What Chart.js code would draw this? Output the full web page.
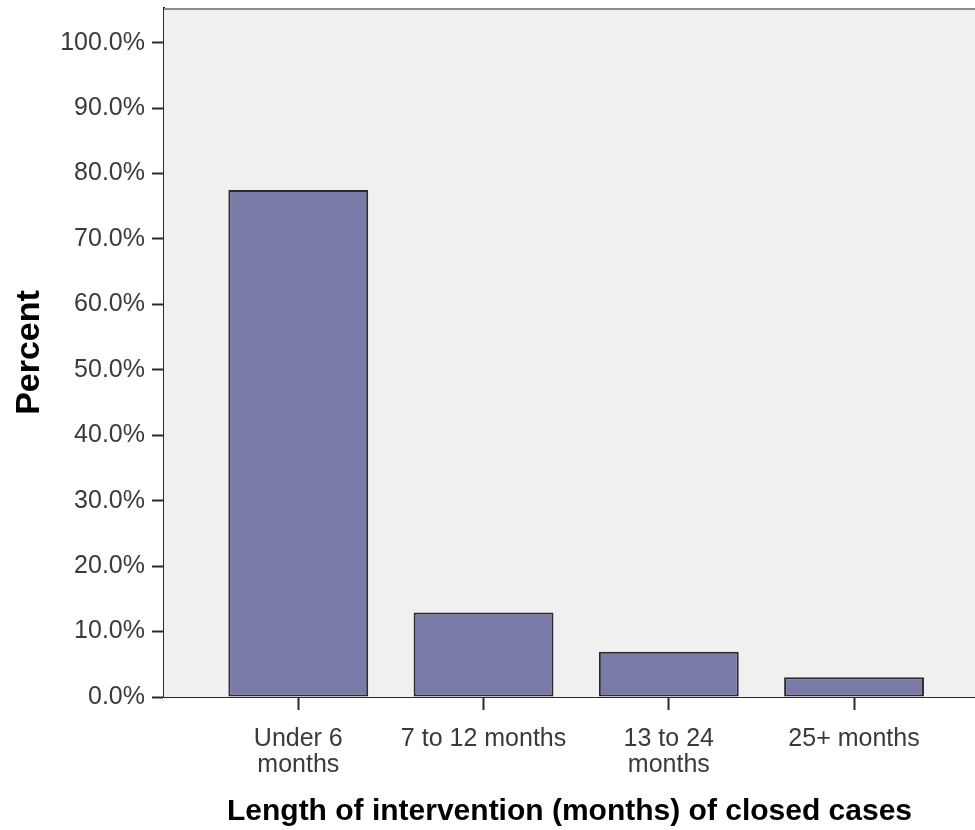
<!DOCTYPE html>
<html>
<head>
<meta charset="utf-8">
<script src="https://cdn.jsdelivr.net/npm/chart.js@4/dist/chart.umd.min.js"></script>
<style>
  html, body { margin: 0; padding: 0; background: #fff; }
  #wrap { width: 975px; height: 830px; }
</style>
</head>
<body>
<div id="wrap"><canvas id="chart" width="975" height="830"></canvas></div>
<script>
  'use strict';

  // Share of closed cases by length of intervention
  const CATEGORIES = [['Under 6', 'months'], '7 to 12 months', ['13 to 24', 'months'], '25+ months'];
  const PERCENTS = [77.5, 12.9, 6.9, 3.0];
  const Y_TICKS = [0, 10, 20, 30, 40, 50, 60, 70, 80, 90, 100];

  const AXIS = '#2a2a2a';
  const FONT = "'Liberation Sans', Arial, sans-serif";

  /* Grey plot panel with a thin border along its top edge. */
  const panel = {
    id: 'panel',
    beforeDatasetsDraw(chart) {
      const { ctx, chartArea: a } = chart;
      ctx.save();
      ctx.fillStyle = '#f0f0f0';
      ctx.fillRect(a.left, a.top, a.right - a.left, a.bottom - a.top);
      ctx.strokeStyle = '#8c8c8c';
      ctx.lineWidth = 2;
      ctx.beginPath();
      ctx.moveTo(a.left, a.top + 1);
      ctx.lineTo(a.right, a.top + 1);
      ctx.stroke();
      ctx.restore();
    }
  };

  // fixed axis boxes: no automatic label overhang padding
  const fixBox = (size) => (s) => {
    if (s.isHorizontal()) s.height = size; else s.width = size;
    s.paddingTop = s.paddingBottom = s.paddingLeft = s.paddingRight = 0;
  };

  Chart.defaults.font.family = FONT;
  Chart.defaults.color = '#3a3a3a';

  new Chart(document.getElementById('chart'), {
    type: 'bar',
    data: {
      datasets: [{
        data: PERCENTS.map((v, i) => ({ x: i, y: v })),
        backgroundColor: '#7a7aa8',
        borderColor: AXIS,
        borderWidth: 2,
        borderSkipped: false,
        categoryPercentage: 1,
        barPercentage: 0.755
      }]
    },
    options: {
      responsive: false,
      animation: false,
      layout: { padding: { top: 8, right: 0, left: 0, bottom: 0 } },
      plugins: { legend: { display: false }, tooltip: { enabled: false } },
      scales: {
        x: {
          type: 'linear',
          offset: false,
          min: -0.725,
          max: 3.653,
          afterBuildTicks: (s) => { s.ticks = CATEGORIES.map((_, i) => ({ value: i })); },
          afterFit: fixBox(133),
          grid: { offset: false, drawOnChartArea: false, tickLength: 13, tickWidth: 2, tickColor: AXIS },
          border: { color: AXIS, width: 2 },
          ticks: {
            autoSkip: false, maxRotation: 0, padding: 16,
            font: { size: 25, lineHeight: 1.04 },
            callback: (v) => CATEGORIES[v]
          },
          title: {
            display: true, text: 'Length of intervention (months) of closed cases',
            color: '#000', font: { size: 30, weight: 'bold' }, padding: { top: 0, bottom: 0 }
          }
        },
        y: {
          min: 0,
          max: 105.3,
          afterBuildTicks: (s) => { s.ticks = Y_TICKS.map((v) => ({ value: v })); },
          afterFit: fixBox(164),
          grid: { drawOnChartArea: false, tickLength: 12, tickWidth: 2, tickColor: AXIS },
          border: { color: AXIS, width: 2 },
          ticks: {
            padding: 7, font: { size: 25 },
            callback: (v) => v.toFixed(1) + '%'
          },
          title: {
            display: true, text: 'Percent',
            color: '#000', font: { size: 34, weight: 'bold' }, padding: { top: 9, bottom: 0 }
          }
        }
      }
    },
    plugins: [panel]
  });
</script>
</body>
</html>
